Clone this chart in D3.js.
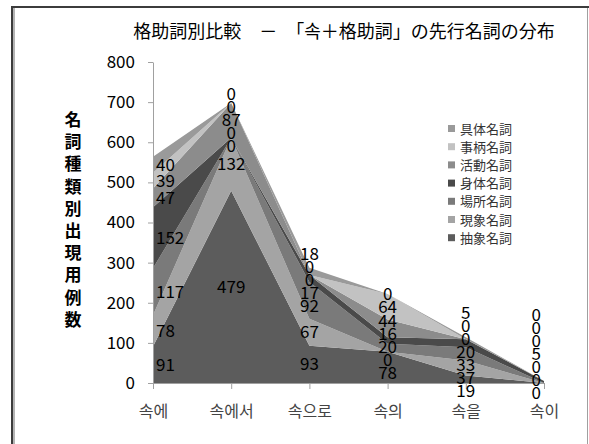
<!DOCTYPE html>
<html>
<head>
<meta charset="utf-8">
<script src="https://d3js.org/d3.v7.min.js"></script>
<style>
  body { margin: 0; background: #fff; }
  svg text { font-family: "Noto Sans CJK JP", "Noto Sans CJK KR", sans-serif; }
</style>
</head>
<body>
<div id="chart"></div>
<script>
// categories (x axis)
const categories = ["속에", "속에서", "속으로", "속의", "속을", "속이"];

// series, stacked bottom to top
const abstractN  = [91, 479, 93, 78, 19, 0];   // 抽象名詞
const phenomN    = [78, 132, 67, 0, 37, 0];    // 現象名詞
const placeN     = [117, 0, 92, 20, 33, 0];    // 場所名詞
const bodyN      = [152, 0, 17, 16, 20, 5];    // 身体名詞
const activityN  = [47, 87, 0, 44, 0, 0];      // 活動名詞
const matterN    = [39, 0, 0, 64, 0, 0];       // 事柄名詞
const concreteN  = [40, 0, 18, 0, 5, 0];       // 具体名詞

const seriesNames = ["抽象名詞", "現象名詞", "場所名詞", "身体名詞", "活動名詞", "事柄名詞", "具体名詞"];
const seriesValues = [abstractN, phenomN, placeN, bodyN, activityN, matterN, concreteN];
const seriesColors = ["#5c5c5c", "#a4a4a4", "#7a7a7a", "#4a4a4a", "#8c8c8c", "#c2c2c2", "#9a9a9a"];

const yTicks = [0, 100, 200, 300, 400, 500, 600, 700, 800];
const yTitle = "名詞種類別出現用例数";
const title = "格助詞別比較　－　「속＋格助詞」の先行名詞の分布";

const width = 589, height = 444;

// build table for d3.stack
const table = categories.map((c, i) => {
  const row = { cat: c };
  seriesNames.forEach((s, k) => { row[s] = seriesValues[k][i]; });
  return row;
});

const svg = d3.select("#chart").append("svg")
    .attr("width", width)
    .attr("height", height);

// frame
svg.append("line").attr("x1", 12).attr("x2", 12).attr("y1", 6).attr("y2", height)
    .attr("stroke", "#3c3c3c").attr("stroke-width", 2);
svg.append("line").attr("x1", 14).attr("x2", 14).attr("y1", 8).attr("y2", height)
    .attr("stroke", "#b4b4b4").attr("stroke-width", 2);
svg.append("line").attr("x1", 11).attr("x2", width).attr("y1", 7).attr("y2", 7)
    .attr("stroke", "#3c3c3c").attr("stroke-width", 2);
svg.append("line").attr("x1", 587.5).attr("x2", 587.5).attr("y1", 8).attr("y2", height)
    .attr("stroke", "#a0a0a0").attr("stroke-width", 1);

const x = d3.scalePoint().domain(categories).range([153, 544]);
const y = d3.scaleLinear().domain([0, 800]).range([383, 62]);

const stack = d3.stack().keys(seriesNames);
const layers = stack(table);

const area = d3.area()
    .x(d => x(d.data.cat))
    .y0(d => y(d[0]))
    .y1(d => y(d[1]));

svg.append("g").selectAll("path")
  .data(layers)
  .join("path")
    .attr("d", area)
    .attr("fill", (d, i) => seriesColors[i]);

// y axis
const yAxis = svg.append("g")
    .attr("transform", "translate(153,0)")
    .call(d3.axisLeft(y).tickValues(yTicks).tickSize(5).tickSizeOuter(0).tickPadding(13));
yAxis.select(".domain").attr("stroke", "#a0a0a0");
yAxis.selectAll(".tick line").attr("stroke", "#a0a0a0");
yAxis.selectAll(".tick text").attr("font-size", 17).attr("fill", "#000");

// x axis
const xAxis = svg.append("g")
    .attr("transform", "translate(0,383)")
    .call(d3.axisBottom(x).tickSize(6).tickSizeOuter(0).tickPadding(17));
xAxis.select(".domain").attr("stroke", "#a0a0a0");
xAxis.selectAll(".tick line").attr("stroke", "#a0a0a0");
xAxis.selectAll(".tick text").attr("font-size", 16).attr("fill", "#444");

// data labels, nudged apart where they collide
const gap = 13, bottomLimit = 393;
categories.forEach((c, i) => {
  const items = layers.map((L, k) => ({
    v: seriesValues[k][i],
    p: y((L[i][0] + L[i][1]) / 2)
  }));
  for (let it = 0; it < 200; it++) {
    for (let j = 1; j < items.length; j++) {
      const d = items[j - 1].p - items[j].p;
      if (d < gap) {
        const m = (gap - d) / 2;
        items[j - 1].p += m;
        items[j].p -= m;
      }
    }
    const over = items[0].p - bottomLimit;
    if (over > 0) items.forEach(o => { o.p -= over; });
  }
  let anchor = "middle", dx = 0;
  if (i === 0) { anchor = "start"; dx = 3; }
  if (i === categories.length - 1) { anchor = "end"; dx = -3; }
  svg.append("g").selectAll("text")
    .data(items)
    .join("text")
      .attr("x", x(c) + dx)
      .attr("y", d => d.p)
      .attr("dy", "0.35em")
      .attr("text-anchor", anchor)
      .attr("font-size", 17)
      .attr("fill", "#000")
      .text(d => d.v);
});

// title
svg.append("text")
    .attr("x", 344)
    .attr("y", 38)
    .attr("text-anchor", "middle")
    .attr("font-size", 18)
    .attr("fill", "#000")
    .text(title);

// vertical y title
svg.append("g").selectAll("text")
  .data(Array.from(yTitle))
  .join("text")
    .attr("x", 73)
    .attr("y", (d, i) => 120 + i * 22.2)
    .attr("dy", "0.35em")
    .attr("text-anchor", "middle")
    .attr("font-size", 17)
    .attr("font-weight", "bold")
    .attr("fill", "#000")
    .text(d => d);

// legend, top entry is the top layer
const legendItems = seriesNames.map((s, k) => ({ name: s, color: seriesColors[k] })).reverse();
const legend = svg.append("g").attr("transform", "translate(448,129)");
const rows = legend.selectAll("g")
  .data(legendItems)
  .join("g")
    .attr("transform", (d, i) => `translate(0,${i * 18.2})`);
rows.append("rect")
    .attr("x", 0).attr("y", -4)
    .attr("width", 7).attr("height", 7)
    .attr("fill", d => d.color);
rows.append("text")
    .attr("x", 12)
    .attr("y", 0)
    .attr("dy", "0.35em")
    .attr("font-size", 13)
    .attr("fill", "#333")
    .text(d => d.name);
</script>
</body>
</html>
